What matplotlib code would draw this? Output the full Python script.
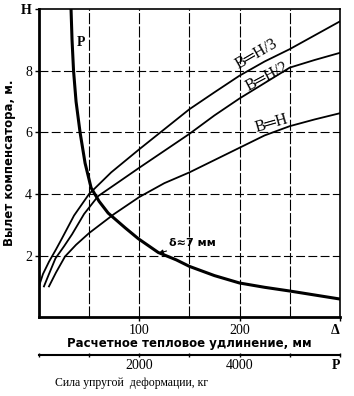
import matplotlib.pyplot as plt

# (x: thermal elongation, mm; y: compensator reach, m)
h3_x = [0, 4, 10, 17, 23, 35, 50, 72, 100, 125, 150, 175, 200, 225, 250, 275, 300]
h3_y = [1.0, 1.4, 1.8, 2.2, 2.56, 3.3, 4.0, 4.7, 5.45, 6.1, 6.75, 7.3, 7.84, 8.3, 8.7, 9.15, 9.6]
h2_x = [5, 10, 16.5, 25, 33, 45, 59, 80, 100, 125, 150, 175, 200, 225, 250, 275, 300]
h2_y = [1.0, 1.4, 1.91, 2.3, 2.69, 3.35, 3.93, 4.4, 4.85, 5.4, 5.95, 6.55, 7.1, 7.6, 8.1, 8.35, 8.58]
h1_x = [10, 17, 26, 37, 50, 75, 100, 125, 150, 175, 200, 225, 250, 275, 300]
h1_y = [1.0, 1.45, 1.97, 2.35, 2.73, 3.35, 3.9, 4.35, 4.7, 5.1, 5.5, 5.9, 6.2, 6.42, 6.62]
p_x = [32, 33, 34.5, 37, 41, 46, 52, 60, 69, 86, 99, 119, 137, 150, 175, 200, 225, 250, 275, 300]
p_y = [10.0, 9, 8, 7, 6, 5, 4.2, 3.76, 3.38, 2.9, 2.55, 2.1, 1.86, 1.65, 1.35, 1.11, 0.97, 0.85, 0.72, 0.59]

x_ticks = [100, 200, 300]
x_labels = ['100', '200', 'Δ']
y_ticks = [2, 4, 6, 8, 10]
y_labels = ['2', '4', '6', '8', 'H']
p_ticks = [2000, 4000, 6000]
p_labels = ['2000', '4000', 'P']

fig = plt.figure(figsize=(3.54, 3.96), dpi=100)
ax = fig.add_axes([0.110, 0.199, 0.850, 0.778])

for gx in [50, 100, 150, 200, 250]:
    ax.axvline(gx, color='black', lw=0.8, ls=(0, (10, 2)), zorder=1)
for gy in [2, 4, 6, 8]:
    ax.axhline(gy, color='black', lw=0.8, ls=(0, (8, 3)), zorder=1)

ax.plot(h3_x, h3_y, color='black', lw=1.3)
ax.plot(h2_x, h2_y, color='black', lw=1.3)
ax.plot(h1_x, h1_y, color='black', lw=1.3)
ax.plot(p_x, p_y, color='black', lw=2.2)

ax.set_xlim(0, 300)
ax.set_ylim(0, 10)
ax.set_xticks(x_ticks, x_labels, fontfamily='Liberation Serif', fontsize=10)
ax.set_yticks(y_ticks, y_labels, fontfamily='Liberation Serif', fontsize=10)
xl = ax.get_xticklabels()
xl[-1].set_fontweight('bold')
xl[-1].set_horizontalalignment('right')
ax.get_yticklabels()[-1].set_fontweight('bold')
ax.tick_params(length=3, width=1, pad=2)
for s in ax.spines.values():
    s.set_linewidth(1.2)
ax.spines['left'].set_linewidth(2)
ax.spines['bottom'].set_linewidth(2)

lab = dict(fontsize=11.5, fontfamily=['Liberation Serif', 'DejaVu Sans'],
           ha='center', va='center', rotation_mode='anchor')
ax.text(217, 8.55, 'B═H/3', rotation=30, **lab)
ax.text(227, 7.8, 'B═H/2', rotation=28, **lab)
ax.text(232, 6.3, 'B═H', rotation=16, **lab)
ax.text(42, 8.9, 'P', fontsize=10, fontweight='bold', fontfamily='Liberation Serif',
        ha='center', va='center')
ax.annotate('δ≈7 мм', xy=(119, 2.07), xytext=(130, 2.4), fontsize=8,
            fontfamily='DejaVu Sans', fontweight='bold', va='center',
            arrowprops=dict(arrowstyle='-|>', color='black', lw=0.8,
                            mutation_scale=7, shrinkA=0, shrinkB=0))

ax.set_xlabel('Расчетное тепловое удлинение, мм', fontsize=8.5, fontweight='bold',
              labelpad=0)
ax.set_ylabel('Вылет компенсатора, м.', fontsize=8.5, fontweight='bold', labelpad=4)

sec = ax.secondary_xaxis(-0.123, functions=(lambda d: d * 20, lambda p: p / 20))
sec.set_xticks(p_ticks, p_labels, fontfamily='Liberation Serif', fontsize=10)
sec.set_xticks([0, 1000, 3000, 5000], minor=True)
sl = sec.get_xticklabels()
sl[-1].set_fontweight('bold')
sl[-1].set_horizontalalignment('right')
sec.tick_params(which='both', direction='inout', length=3, width=1, pad=1)
sec.spines['bottom'].set_linewidth(1.5)

fig.text(55 / 354, 1 - 383 / 396, 'Сила упругой  деформации, кг', fontsize=8.5,
         fontfamily='Liberation Serif', ha='left', va='center')

fig.savefig('out.png', dpi=100)
